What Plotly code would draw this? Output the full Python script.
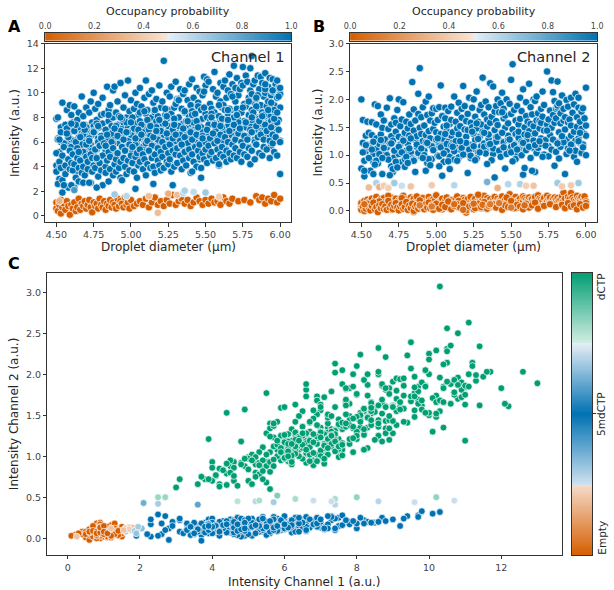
import numpy as np
import plotly.graph_objects as go

# ---------------- data ----------------
# Empty droplets: diameter, channel-1 intensity, channel-2 intensity
E_d = [4.50, 4.50, 4.51, 4.52, 4.53, 4.53, 4.54, 4.55, 4.56, 4.57,
       4.58, 4.59, 4.60, 4.61, 4.62, 4.63, 4.64, 4.65, 4.66, 4.67,
       4.68, 4.69, 4.70, 4.71, 4.72, 4.73, 4.74, 4.75, 4.76, 4.77,
       4.78, 4.79, 4.80, 4.81, 4.82, 4.83, 4.84, 4.85, 4.86, 4.87,
       4.88, 4.89, 4.90, 4.91, 4.92, 4.93, 4.94, 4.95, 4.96, 4.97,
       4.98, 4.99, 5.00, 5.02, 5.04, 5.06, 5.08, 5.10, 5.12, 5.14,
       5.16, 5.18, 5.20, 5.22, 5.24, 5.26, 5.28, 5.30, 5.32, 5.34,
       5.36, 5.38, 5.40, 5.42, 5.44, 5.46, 5.48, 5.50, 5.52, 5.54,
       5.56, 5.58, 5.60, 5.62, 5.64, 5.66, 5.68, 5.72, 5.76, 5.80,
       5.84, 5.86, 5.88, 5.90, 5.92, 5.94, 5.96, 5.98, 6.00]
E_c1 = [0.6, 1.1, 0.4, 0.9, 1.3, 0.2, 0.7, 1.0, 0.5, 1.2,
        0.8, 0.1, 0.9, 0.6, 1.1, 0.4, 0.7, 1.4, 0.5, 1.0,
        0.8, 1.2, 0.6, 0.9, 1.3, 0.7, 0.3, 1.1, 0.8, 1.0,
        0.6, 1.4, 0.9, 0.7, 1.2, 0.5, 1.0, 0.8, 1.3, 0.7,
        1.1, 0.9, 0.6, 1.4, 0.8, 1.2, 1.0, 0.7, 1.5, 0.9,
        1.1, 0.6, 1.3, 0.8, 1.0, 1.2, 0.9, 1.4, 0.7, 1.1,
        1.5, 0.9, 1.2, 0.8, 1.3, 1.0, 1.7, 0.9, 1.2, 1.4,
        1.0, 1.3, 0.8, 1.1, 1.5, 1.2, 0.9, 1.3, 1.0, 1.4,
        1.1, 1.2, 0.9, 1.5, 1.2, 1.0, 1.4, 1.2, 1.3, 1.1,
        1.6, 1.3, 1.5, 1.0, 1.4, 1.2, 1.7, 1.1, 1.4]
E_c2 = [0.05, 0.02, 0.08, 0.00, 0.11, 0.04, 0.13, 0.06, 0.01, 0.09,
        0.15, 0.03, 0.07, -0.02, 0.10, 0.05, 0.12, 0.04, 0.08, 0.02,
        0.18, 0.06, 0.11, 0.03, 0.09, 0.14, 0.06, 0.01, 0.08, 0.12,
        0.04, 0.07, 0.16, 0.02, 0.10, 0.05, 0.13, 0.00, 0.08, 0.11,
        0.04, 0.19, 0.07, 0.09, 0.03, 0.12, 0.06, 0.15, 0.05, 0.10,
        0.02, 0.08, 0.13, 0.04, 0.11, 0.07, 0.17, 0.03, 0.09, 0.12,
        0.06, 0.14, 0.01, 0.08, 0.10, 0.05, 0.13, 0.07, 0.16, 0.04,
        0.09, 0.12, 0.06, 0.14, 0.02, 0.10, 0.07, 0.18, 0.05, 0.11,
        0.08, 0.03, 0.13, 0.06, 0.10, 0.15, 0.04, 0.09, 0.12, 0.07,
        0.11, 0.05, 0.14, 0.08, 0.10, 0.03, 0.12, 0.06, 0.09]

# 5mdCTP droplets
M_d = [4.50, 4.50, 4.51, 4.52, 4.52, 4.53, 4.54, 4.54, 4.55,
       4.56, 4.56, 4.57, 4.58, 4.58, 4.59, 4.59, 4.60, 4.60,
       4.61, 4.61, 4.62, 4.63, 4.63, 4.64, 4.64, 4.65, 4.65,
       4.66, 4.66, 4.67, 4.68, 4.68, 4.69, 4.69, 4.70, 4.70,
       4.71, 4.71, 4.72, 4.73, 4.73, 4.74, 4.74, 4.75, 4.75,
       4.76, 4.76, 4.77, 4.78, 4.78, 4.79, 4.79, 4.80, 4.80,
       4.81, 4.81, 4.82, 4.83, 4.83, 4.84, 4.84, 4.85, 4.85,
       4.86, 4.86, 4.87, 4.88, 4.88, 4.89, 4.89, 4.90, 4.90,
       4.91, 4.91, 4.92, 4.93, 4.93, 4.94, 4.94, 4.95, 4.95,
       4.96, 4.96, 4.97, 4.98, 4.98, 4.99, 4.99, 5.00, 5.00,
       5.01, 5.01, 5.02, 5.03, 5.03, 5.04, 5.04, 5.05, 5.05,
       5.06, 5.06, 5.07, 5.08, 5.08, 5.09, 5.09, 5.10, 5.10,
       5.11, 5.11, 5.12, 5.13, 5.13, 5.14, 5.14, 5.15, 5.15,
       5.16, 5.16, 5.17, 5.18, 5.18, 5.19, 5.19, 5.20, 5.20,
       5.21, 5.21, 5.22, 5.23, 5.23, 5.24, 5.24, 5.25, 5.25,
       5.26, 5.26, 5.27, 5.28, 5.28, 5.29, 5.29, 5.30, 5.30,
       5.31, 5.31, 5.32, 5.33, 5.33, 5.34, 5.34, 5.35, 5.35,
       5.36, 5.36, 5.37, 5.38, 5.38, 5.39, 5.39, 5.40, 5.40,
       5.41, 5.41, 5.42, 5.43, 5.43, 5.44, 5.44, 5.45, 5.45,
       5.46, 5.46, 5.47, 5.48, 5.48, 5.49, 5.49, 5.50, 5.50,
       5.51, 5.51, 5.52, 5.53, 5.53, 5.54, 5.54, 5.55, 5.55,
       5.56, 5.56, 5.57, 5.58, 5.58, 5.59, 5.59, 5.60, 5.60,
       5.61, 5.61, 5.62, 5.63, 5.63, 5.64, 5.64, 5.65, 5.65,
       5.66, 5.66, 5.67, 5.68, 5.68, 5.69, 5.69, 5.70, 5.70,
       5.71, 5.71, 5.72, 5.73, 5.73, 5.74, 5.74, 5.75, 5.75,
       5.76, 5.76, 5.77, 5.78, 5.78, 5.79, 5.79, 5.80, 5.80,
       5.81, 5.81, 5.82, 5.83, 5.83, 5.84, 5.84, 5.85, 5.85,
       5.86, 5.86, 5.87, 5.88, 5.88, 5.89, 5.89, 5.90, 5.90,
       5.91, 5.91, 5.92, 5.93, 5.93, 5.94, 5.94, 5.95, 5.95,
       5.96, 5.96, 5.97, 5.98, 5.98, 5.99, 5.99, 6.00, 6.00,
       4.54, 5.03, 4.62, 4.77, 5.28, 4.68, 5.15, 4.85, 5.47]
M_c1 = [3.6, 5.1, 2.6, 4.4, 6.2, 3.9, 4.9, 2.9, 5.6,
        4.1, 3.4, 6.7, 4.6, 2.3, 5.3, 3.8, 4.3, 7.5,
        3.7, 5.0, 4.2, 6.0, 3.1, 4.7, 5.5, 3.9, 2.8,
        4.5, 6.4, 3.5, 5.2, 4.0, 7.0, 3.3, 4.8, 5.8,
        3.8, 4.4, 6.1, 2.7, 5.0, 3.6, 4.7, 6.8, 4.1,
        5.4, 3.9, 4.6, 7.3, 3.2, 5.7, 4.3, 3.7, 6.3,
        4.9, 2.5, 5.9, 4.0, 3.5, 6.6, 4.5, 5.2, 8.2,
        3.8, 4.8, 6.0, 3.3, 5.5, 4.2, 7.1, 4.6, 3.6,
        5.1, 6.5, 3.9, 4.4, 8.0, 5.6, 2.9, 4.7, 6.2,
        4.0, 5.3, 3.4, 6.8, 4.5, 5.8, 3.7, 4.9, 7.6,
        4.3, 5.6, 3.6, 6.3, 4.8, 5.1, 3.1, 7.0, 4.1,
        5.4, 4.4, 6.6, 3.8, 5.0, 8.5, 4.6, 5.9, 3.3,
        4.2, 6.1, 5.3, 3.9, 7.3, 4.7, 5.7, 4.0, 6.4,
        5.0, 3.5, 6.9, 4.5, 5.5, 4.1, 7.8, 5.2, 3.7,
        4.8, 6.0, 3.9, 5.6, 8.7, 4.4, 6.7, 5.1, 4.2,
        5.8, 4.6, 3.6, 6.3, 5.3, 7.4, 4.0, 5.0, 6.6,
        4.3, 5.5, 9.4, 4.9, 6.1, 3.8, 5.7, 7.1, 4.5,
        5.2, 6.4, 4.1, 5.9, 7.7, 4.7, 5.4, 3.5, 6.8,
        5.0, 6.2, 4.4, 8.3, 5.6, 4.0, 6.6, 5.3, 7.2,
        4.8, 5.8, 3.9, 6.5, 5.1, 10.1, 4.6, 6.0, 5.4,
        4.3, 7.0, 5.7, 6.3, 4.9, 8.0, 5.2, 6.7, 4.5,
        5.9, 7.5, 4.7, 6.1, 5.4, 9.0, 4.2, 6.6, 5.0,
        7.2, 5.6, 4.8, 6.4, 8.6, 5.3, 4.4, 7.8, 6.0,
        5.1, 6.9, 4.6, 9.7, 5.8, 7.4, 4.9, 6.2, 5.5,
        8.2, 4.7, 6.7, 5.2, 7.1, 6.0, 4.4, 8.8, 5.7,
        6.5, 5.0, 7.6, 4.8, 6.2, 9.3, 5.5, 7.0, 4.2,
        6.8, 5.3, 8.4, 6.0, 4.6, 7.3, 5.8, 9.8, 6.4,
        5.1, 7.7, 6.6, 4.9, 8.1, 6.2, 5.6, 7.4, 10.3,
        6.9, 5.4, 8.6, 6.1, 4.7, 7.2, 9.2, 5.9, 6.6,
        7.9, 5.2, 6.4, 8.4, 4.9, 7.0, 9.7, 6.0, 3.4,
        1.9, 2.2, 2.3, 2.3, 2.5, 2.7, 2.6, 2.8, 3.1]
M_c2 = [0.10, 0.14, 0.05, 0.18, 0.08, 0.12, 0.03, 0.20, 0.16,
        0.07, 0.15, 0.22, 0.11, 0.02, 0.09, 0.19, 0.13, 0.25,
        0.04, 0.17, 0.10, 0.21, 0.08, 0.14, 0.06, 0.23, 0.12,
        0.16, 0.11, 0.05, 0.20, 0.09, 0.14, 0.18, 0.02, 0.24,
        0.13, 0.07, 0.17, 0.10, 0.22, 0.15, 0.04, 0.19, 0.11,
        0.08, 0.18, 0.12, 0.27, 0.06, 0.15, 0.21, 0.09, 0.13,
        0.17, 0.03, 0.10, 0.24, 0.14, 0.19, 0.07, 0.12, 0.22,
        0.16, 0.09, 0.26, 0.11, 0.05, 0.18, 0.14, 0.20, 0.08,
        0.13, 0.23, 0.06, 0.17, 0.12, 0.10, 0.15, 0.25, 0.07,
        0.19, 0.12, 0.04, 0.21, 0.14, 0.09, 0.18, 0.11, 0.28,
        0.15, 0.06, 0.12, 0.20, 0.16, 0.03, 0.22, 0.13, 0.09,
        0.18, 0.11, 0.24, 0.07, 0.14, 0.19, 0.05, 0.16, 0.10,
        0.20, 0.12, 0.08, 0.17, 0.22, 0.13, 0.26, 0.06, 0.15,
        0.11, 0.19, 0.14, 0.23, 0.04, 0.16, 0.20, 0.09, -0.03,
        0.14, 0.21, 0.10, 0.17, 0.25, 0.07, 0.13, 0.19, 0.03,
        0.15, 0.22, 0.11, 0.08, 0.18, 0.24, 0.13, 0.05, 0.17,
        0.12, 0.20, 0.27, 0.09, 0.16, 0.14, 0.23, 0.11, 0.18,
        0.07, 0.21, 0.15, 0.12, 0.19, 0.25, 0.10, 0.06, 0.16,
        0.13, 0.22, 0.18, 0.20, 0.08, 0.14, 0.26, 0.11, 0.17,
        0.20, 0.09, 0.15, 0.13, 0.24, 0.30, 0.07, 0.18, 0.12,
        0.16, 0.21, 0.10, 0.25, 0.14, 0.18, 0.06, 0.13, 0.19,
        0.22, 0.15, 0.11, 0.17, 0.26, 0.23, 0.09, 0.14, 0.20,
        0.12, 0.18, 0.24, 0.08, 0.20, 0.15, 0.21, 0.17, 0.11,
        0.19, 0.25, 0.13, 0.28, 0.16, 0.10, 0.22, 0.14, 0.20,
        0.18, 0.09, 0.23, 0.15, 0.12, 0.27, 0.17, 0.21, 0.13,
        0.19, 0.24, 0.16, 0.11, 0.22, 0.24, 0.14, 0.20, 0.08,
        0.17, 0.23, 0.19, 0.12, 0.20, 0.26, 0.15, 0.33, 0.18,
        0.14, 0.22, 0.09, 0.19, 0.25, 0.16, 0.21, 0.12, 0.32,
        0.18, 0.24, 0.20, 0.13, 0.17, 0.27, 0.15, 0.22, 0.10,
        0.21, 0.16, 0.25, 0.19, 0.12, 0.23, 0.26, 0.17, 0.14,
        0.03, 0.05, 0.17, 0.23, 0.29, 0.27, 0.18, -0.02, 0.24]

# dCTP droplets
D_d = [4.50, 4.50, 4.51, 4.51, 4.52, 4.52, 4.53, 4.53, 4.54, 4.54, 4.55, 4.55,
       4.56, 4.56, 4.57, 4.57, 4.58, 4.58, 4.59, 4.59, 4.60, 4.60, 4.60,
       4.61, 4.61, 4.62, 4.62, 4.63, 4.63, 4.64, 4.64, 4.65, 4.65, 4.65,
       4.66, 4.66, 4.67, 4.67, 4.68, 4.68, 4.69, 4.69, 4.70, 4.70, 4.70,
       4.71, 4.71, 4.72, 4.72, 4.73, 4.73, 4.74, 4.74, 4.75, 4.75, 4.75,
       4.76, 4.76, 4.77, 4.77, 4.78, 4.78, 4.79, 4.79, 4.80, 4.80, 4.80,
       4.81, 4.81, 4.82, 4.82, 4.83, 4.83, 4.84, 4.84, 4.85, 4.85, 4.85,
       4.86, 4.86, 4.87, 4.87, 4.88, 4.88, 4.89, 4.89, 4.90, 4.90, 4.90,
       4.91, 4.91, 4.92, 4.92, 4.93, 4.93, 4.94, 4.94, 4.95, 4.95, 4.95,
       4.96, 4.96, 4.97, 4.97, 4.98, 4.98, 4.99, 4.99, 5.00, 5.00, 5.00,
       5.01, 5.01, 5.02, 5.02, 5.03, 5.03, 5.04, 5.04, 5.05, 5.05, 5.05,
       5.06, 5.06, 5.07, 5.07, 5.08, 5.08, 5.09, 5.09, 5.10, 5.10, 5.10,
       5.11, 5.11, 5.12, 5.12, 5.13, 5.13, 5.14, 5.14, 5.15, 5.15, 5.15,
       5.16, 5.16, 5.17, 5.17, 5.18, 5.18, 5.19, 5.19, 5.20, 5.20, 5.20,
       5.21, 5.21, 5.22, 5.22, 5.23, 5.23, 5.24, 5.24, 5.25, 5.25, 5.25,
       5.26, 5.26, 5.27, 5.27, 5.28, 5.28, 5.29, 5.29, 5.30, 5.30, 5.30,
       5.31, 5.31, 5.32, 5.32, 5.33, 5.33, 5.34, 5.34, 5.35, 5.35, 5.35,
       5.36, 5.36, 5.37, 5.37, 5.38, 5.38, 5.39, 5.39, 5.40, 5.40, 5.40,
       5.41, 5.41, 5.42, 5.42, 5.43, 5.43, 5.44, 5.44, 5.45, 5.45, 5.45,
       5.46, 5.46, 5.47, 5.47, 5.48, 5.48, 5.49, 5.49, 5.50, 5.50, 5.50,
       5.51, 5.51, 5.52, 5.52, 5.53, 5.53, 5.54, 5.54, 5.55, 5.55, 5.55,
       5.56, 5.56, 5.57, 5.57, 5.58, 5.58, 5.59, 5.59, 5.60, 5.60, 5.60,
       5.61, 5.61, 5.62, 5.62, 5.63, 5.63, 5.64, 5.64, 5.65, 5.65, 5.65,
       5.66, 5.66, 5.67, 5.67, 5.68, 5.68, 5.69, 5.69, 5.70, 5.70, 5.70,
       5.71, 5.71, 5.72, 5.72, 5.73, 5.73, 5.74, 5.74, 5.75, 5.75, 5.75,
       5.76, 5.76, 5.77, 5.77, 5.78, 5.78, 5.79, 5.79, 5.80, 5.80, 5.80,
       5.81, 5.81, 5.81, 5.82, 5.82, 5.83, 5.83, 5.84, 5.84, 5.85, 5.85, 5.85,
       5.86, 5.86, 5.87, 5.87, 5.88, 5.88, 5.89, 5.89, 5.90, 5.90, 5.90,
       5.91, 5.91, 5.92, 5.92, 5.93, 5.93, 5.94, 5.94, 5.95, 5.95, 5.95,
       5.96, 5.96, 5.97, 5.97, 5.98, 5.98, 5.99, 5.99, 6.00, 6.00, 6.00,
       4.58, 4.71, 4.79, 4.93, 5.02, 5.07, 5.19, 5.27, 5.32, 5.44, 5.58, 5.66,
       4.51, 4.53, 4.55, 4.57, 4.58, 4.60, 4.62, 4.63, 4.65, 4.67,
       4.68, 4.70, 4.72, 4.73, 4.75, 4.77, 4.78, 4.80, 4.82, 4.83,
       4.85, 4.87, 4.88, 4.90, 4.92, 4.93, 4.95, 4.97, 4.98, 5.00,
       5.02, 5.03, 5.05, 5.07, 5.08, 5.10, 5.12, 5.13, 5.15, 5.17,
       5.18, 5.20, 5.22, 5.23, 5.25, 5.27, 5.28, 5.30, 5.32, 5.33,
       5.35, 5.37, 5.38, 5.40, 5.42, 5.43, 5.45, 5.47, 5.48, 5.50,
       5.52, 5.53, 5.55, 5.57, 5.58, 5.60, 5.62, 5.63, 5.65, 5.67,
       5.68, 5.70, 5.72, 5.73, 5.75, 5.77, 5.78, 5.80, 5.82, 5.83,
       5.85, 5.87, 5.88, 5.90, 5.92, 5.93, 5.95, 5.97, 5.98, 6.00,
       4.52, 4.59, 4.64, 4.69, 4.74, 4.81, 4.86, 4.91, 4.96, 5.04,
       5.09, 5.14, 5.21, 5.26, 5.34, 5.39, 5.46, 5.51, 5.59, 5.64,
       5.71, 5.79, 5.86, 5.94,
       5.01, 5.06, 5.11, 5.16, 5.24, 5.29, 5.36, 5.41, 5.44, 5.49,
       5.54, 5.61, 5.66, 5.69, 5.74, 5.81, 5.84, 5.89, 5.96, 4.94]
D_c1 = [7.9, 4.1, 6.3, 8.0, 5.2, 3.0, 7.2, 6.0, 9.2, 4.8, 6.8, 5.6,
        7.4, 3.8, 8.6, 5.9, 6.6, 4.5, 7.0, 9.0, 5.4, 6.2, 8.2,
        4.2, 7.6, 6.1, 8.9, 5.7, 6.9, 3.6, 7.8, 6.4, 5.0, 8.4,
        7.1, 5.5, 9.7, 6.7, 4.6, 8.1, 6.0, 7.4, 5.2, 8.8, 6.5,
        7.0, 4.0, 8.4, 6.2, 5.8, 9.3, 7.6, 6.6, 10.0, 5.1, 7.3,
        6.9, 8.7, 5.4, 7.8, 6.3, 9.1, 4.4, 7.2, 8.2, 6.0, 5.7,
        9.6, 7.5, 6.6, 8.3, 5.3, 7.0, 10.5, 6.1, 8.6, 7.7, 4.8,
        6.8, 9.0, 7.3, 5.6, 8.0, 10.2, 6.4, 10.5, 5.0, 8.4, 6.9,
        7.4, 9.3, 5.9, 8.1, 6.5, 10.8, 7.1, 4.6, 8.8, 6.2, 7.6,
        9.8, 6.7, 8.0, 5.5, 7.2, 11.0, 6.0, 8.5, 7.8, 6.3, 9.4,
        7.0, 5.2, 8.7, 6.6, 10.0, 7.5, 5.8, 9.1, 6.9, 8.2, 4.9,
        7.7, 10.4, 6.4, 8.9, 5.6, 7.3, 9.6, 6.1, 8.3, 7.0, 11.0,
        6.7, 8.6, 5.3, 9.9, 7.4, 6.0, 8.0, 10.2, 7.1, 5.7, 9.2,
        8.4, 6.5, 7.7, 9.5, 5.9, 8.1, 6.8, 10.6, 7.2, 8.8, 6.2,
        9.3, 7.5, 12.6, 6.6, 8.2, 5.4, 7.9, 10.0, 6.9, 8.6, 7.3,
        9.7, 6.1, 8.3, 10.5, 7.0, 5.6, 8.8, 7.6, 9.1, 6.4, 10.9,
        9.5, 6.7, 9.5, 8.0, 5.8, 10.3, 7.2, 8.7, 6.3, 9.9, 7.5,
        8.4, 10.2, 6.9, 7.7, 9.4, 5.5, 8.1, 10.7, 7.4, 6.6, 9.0,
        11.1, 8.5, 7.0, 9.6, 6.2, 8.2, 10.4, 7.6, 9.2, 6.8, 8.9,
        7.3, 10.1, 8.6, 6.0, 9.8, 7.9, 11.3, 6.5, 8.3, 10.6, 7.1,
        11.1, 8.0, 6.7, 10.9, 7.7, 9.1, 5.9, 8.7, 10.3, 7.4, 6.3,
        11.7, 8.4, 7.0, 9.7, 6.6, 10.0, 8.1, 7.6, 9.3, 6.1, 10.8,
        8.8, 7.2, 10.5, 9.0, 6.8, 11.0, 7.9, 9.6, 8.3, 6.4, 10.2,
        11.5, 7.5, 9.9, 8.6, 6.9, 10.7, 8.0, 12.2, 9.3, 7.3, 10.4,
        8.7, 11.2, 7.8, 9.8, 10.3, 7.1, 10.8, 8.4, 12.1, 6.6, 10.6,
        9.1, 7.7, 11.4, 8.9, 7.4, 10.9, 8.2, 9.6, 12.0, 7.0, 10.2,
        8.6, 9.9, 13.0, 7.6, 10.7, 9.2, 11.0, 8.0, 9.5, 7.3, 11.4, 8.8,
        10.3, 7.9, 11.3, 9.0, 8.4, 10.8, 7.1, 9.7, 11.6, 8.1, 10.0,
        8.9, 7.5, 10.5, 9.3, 11.2, 8.2, 9.8, 7.7, 11.1, 8.6, 10.1,
        9.0, 7.2, 10.7, 8.3, 9.6, 11.0, 7.8, 10.4, 8.8, 9.9, 10.4,
        4.2, 3.7, 4.0, 3.1, 4.5, 4.4, 3.9, 4.9, 5.7, 5.5, 4.4, 4.6,
        6.2, 6.8, 5.9, 7.1, 6.4, 5.6, 6.9, 7.4, 6.1, 5.8,
        6.6, 7.2, 6.3, 5.5, 6.9, 7.5, 6.0, 6.5, 5.7, 7.0,
        6.2, 6.7, 5.9, 7.3, 6.4, 6.9, 5.6, 7.6, 6.1, 6.6,
        7.1, 5.8, 6.3, 7.4, 6.8, 6.0, 7.0, 6.5, 5.7, 7.2,
        6.2, 6.9, 5.9, 7.5, 6.4, 6.7, 7.0, 6.1, 7.3, 6.6,
        5.8, 7.1, 6.3, 6.9, 7.6, 6.0, 6.5, 7.2, 6.8, 5.9,
        7.4, 6.2, 6.7, 7.0, 6.4, 7.5, 6.1, 6.9, 7.3, 6.6,
        7.1, 6.3, 7.6, 6.8, 6.0, 7.2, 6.5, 7.4, 6.9, 6.2,
        7.0, 6.7, 7.5, 6.4, 7.1, 6.6, 7.3, 6.8, 7.6, 6.1,
        3.9, 4.3, 5.1, 4.7, 5.3, 4.0, 5.0, 4.5, 5.4, 4.2,
        5.2, 4.8, 5.5, 4.4, 5.0, 5.6, 4.6, 5.3, 4.1, 5.4,
        4.9, 5.6, 5.1, 5.7,
        8.0, 8.4, 7.8, 8.6, 8.1, 7.9, 8.5, 8.2, 7.7, 8.8,
        8.3, 7.9, 8.7, 8.0, 8.4, 7.8, 8.9, 8.2, 8.6, 7.9]
D_c2 = [2.00, 0.76, 1.63, 1.22, 0.90, 0.62, 1.35, 1.07, 1.60, 1.18, 0.95, 1.40,
        1.12, 0.72, 1.36, 1.59, 1.02, 0.88, 1.25, 1.91, 1.11, 1.30, 1.55,
        0.85, 1.88, 0.98, 1.20, 1.37, 1.73, 0.66, 1.49, 1.16, 0.99, 1.62,
        1.06, 1.28, 1.85, 1.14, 0.93, 1.47, 1.21, 2.02, 0.80, 1.34, 1.55,
        1.26, 0.70, 1.66, 0.96, 1.42, 1.58, 1.10, 1.81, 2.00, 1.02, 1.33,
        1.19, 1.52, 0.88, 1.64, 1.29, 1.95, 0.79, 1.40, 1.08, 1.60, 1.23,
        1.48, 1.21, 1.73, 1.35, 1.05, 1.56, 2.31, 0.94, 1.44, 1.82, 0.92,
        1.27, 1.62, 1.15, 1.34, 2.10, 1.74, 1.49, 2.56, 0.97, 1.38, 1.68,
        1.25, 1.86, 1.08, 1.53, 1.36, 1.96, 1.72, 0.86, 1.43, 1.19, 2.05,
        1.62, 1.30, 1.75, 0.93, 1.47, 1.84, 1.12, 1.58, 1.83, 1.26, 1.41,
        1.63, 0.99, 1.86, 1.22, 2.25, 1.38, 1.17, 1.70, 1.51, 1.29, 0.88,
        1.66, 1.85, 1.08, 1.44, 1.24, 1.79, 1.56, 0.97, 1.87, 1.35, 1.63,
        1.41, 1.22, 0.92, 2.05, 1.60, 1.14, 1.76, 1.48, 1.28, 1.37, 1.94,
        1.52, 1.10, 1.83, 1.67, 1.25, 2.24, 1.46, 1.88, 1.02, 1.61, 1.33,
        1.74, 1.45, 2.03, 1.19, 1.58, 0.95, 1.85, 1.50, 1.38, 2.00, 1.12,
        1.69, 1.27, 1.48, 2.14, 1.60, 1.05, 1.81, 1.33, 1.55, 1.16, 1.90,
        2.39, 1.42, 1.73, 1.21, 1.08, 1.96, 1.51, 1.64, 1.29, 1.86, 1.37,
        1.58, 2.29, 1.17, 1.69, 2.23, 1.02, 1.45, 1.78, 1.32, 1.88, 1.61,
        2.00, 1.54, 1.26, 1.77, 1.10, 1.93, 2.12, 1.40, 1.66, 1.23, 1.83,
        1.49, 1.71, 2.00, 1.06, 1.57, 1.35, 1.92, 1.28, 1.74, 2.35, 1.15,
        2.63, 1.46, 1.20, 1.81, 1.62, 1.38, 0.99, 1.88, 1.55, 1.31, 1.42,
        2.03, 1.65, 1.24, 1.79, 1.11, 2.18, 1.50, 1.37, 1.95, 1.18, 1.70,
        1.60, 1.29, 2.28, 1.43, 1.56, 1.86, 1.34, 1.73, 2.00, 1.13, 1.52,
        1.97, 1.39, 2.05, 1.62, 1.21, 1.75, 1.48, 1.61, 1.58, 1.30, 1.83,
        1.69, 2.14, 1.44, 1.90, 3.07, 1.27, 2.50, 1.55, 1.64, 1.16, 1.64,
        1.80, 1.36, 2.34, 1.49, 2.13, 1.72, 1.58, 1.97, 1.83, 1.24, 1.66,
        2.32, 1.85, 1.89, 1.41, 1.93, 1.57, 1.75, 1.32, 2.07, 1.19, 1.62, 1.83,
        1.68, 1.46, 1.99, 1.28, 1.59, 1.87, 1.09, 1.64, 2.03, 1.35, 1.53,
        1.76, 1.14, 1.91, 1.42, 2.10, 1.26, 1.68, 1.51, 1.85, 2.03, 1.30,
        1.60, 1.22, 1.78, 1.47, 1.84, 1.19, 1.38, 1.66, 2.21, 1.53, 1.35,
        0.66, 0.75, 0.93, 0.72, 0.80, 1.53, 1.21, 1.57, 1.40, 1.77, 0.65, 0.70,
        1.05, 1.18, 0.95, 1.10, 1.24, 0.90, 1.02, 1.27, 1.13, 1.00,
        0.92, 1.21, 1.08, 0.88, 1.15, 1.05, 1.26, 0.97, 1.12, 1.30,
        0.90, 1.19, 1.04, 1.12, 1.00, 1.23, 0.93, 1.16, 1.09, 1.28,
        0.98, 1.14, 1.03, 1.20, 0.89, 1.17, 1.07, 1.25, 0.96, 1.13,
        1.01, 1.22, 1.10, 0.99, 1.16, 0.94, 1.29, 1.06, 1.15, 1.03,
        1.19, 0.91, 1.12, 1.24, 1.08, 0.97, 1.14, 1.02, 1.27, 1.05,
        1.18, 0.93, 1.11, 1.00, 1.22, 1.09, 1.15, 0.95, 1.26, 1.04,
        1.13, 1.20, 1.01, 1.17, 0.98, 1.10, 1.28, 1.06, 0.94, 1.15,
        1.23, 1.02, 1.12, 1.19, 0.97, 1.08, 1.25, 1.04, 1.14, 1.00,
        0.72, 0.83, 0.95, 0.64, 0.78, 0.86, 0.70, 0.95, 0.82, 0.63,
        0.75, 0.90, 0.68, 0.91, 0.84, 0.60, 0.76, 0.89, 0.77, 0.72,
        0.97, 0.81, 0.66, 0.88,
        1.30, 1.38, 1.15, 1.25, 1.42, 1.05, 1.20, 1.33, 1.40, 1.28,
        1.10, 1.36, 1.18, 1.25, 1.44, 1.21, 1.34, 1.08, 1.40, 1.22]

# Ambiguous droplets with intermediate probabilities
U_d = [4.55, 4.60, 4.62, 4.65, 4.68, 4.72, 4.77, 4.83, 4.97, 5.12,
       5.34, 5.41, 5.48, 5.56, 5.60, 5.65, 5.81, 5.84, 5.90, 5.95,
       4.89, 4.97, 5.12, 5.18, 5.25, 5.31, 5.35, 5.36, 5.42, 5.50, 5.59, 4.52]
U_c1 = [2.5, 2.5, 2.1, 5.2, 7.4, 2.7, 4.7, 5.7, 6.8, 5.3,
        5.8, 3.6, 6.3, 7.4, 7.3, 8.6, 8.0, 9.6, 10.7, 10.2,
        1.75, 1.6, 1.6, 0.25, 1.8, 1.7, 1.85, 2.05, 1.95, 1.9, 1.55, 1.2]
U_c2 = [0.42, 0.50, 0.43, 0.45, 0.41, 0.50, 0.45, 0.44, 0.46, 0.46,
        0.52, 0.41, 0.48, 0.48, 0.45, 0.45, 0.50, 0.44, 0.46, 0.50,
        0.10, 0.08, 0.12, 0.02, 0.13, 0.11, 0.09, 0.12, 0.14, 0.06, 0.10, 0.12]
U_p1 = [1, 1, 0.85, 1, 1, 1, 1, 1, 1, 1,
        1, 1, 1, 1, 1, 1, 1, 1, 1, 1,
        0.65, 0.6, 0.35, 0.35, 0.3, 0.35, 0.6, 0.62, 0.58, 0.65, 0.4, 0.3]
U_p2 = [0.35, 0.62, 0.3, 0.4, 0.42, 0.65, 0.56, 0.38, 0.4, 0.6,
        0.75, 0.3, 0.6, 0.62, 0.42, 0.38, 0.65, 0.4, 0.4, 0.65,
        0.1, 0.1, 0.05, 0.05, 0.05, 0.05, 0.1, 0.1, 0.1, 0.1, 0.05, 0.05]
U_cls = [0.68, 0.82, 0.62, 0.70, 0.70, 0.82, 0.78, 0.68, 0.72, 0.80,
         0.85, 0.60, 0.80, 0.80, 0.72, 0.70, 0.83, 0.72, 0.72, 0.83,
         0.32, 0.30, 0.20, 0.20, 0.20, 0.22, 0.30, 0.33, 0.30, 0.32, 0.20, 0.20]

CLASS_LEVELS = {"Empty": 0.0, "5mdCTP": 0.5, "dCTP": 1.0}

# ---------------- assemble ----------------
def grp(*cols):
    n = min(len(c) for c in cols)
    return [np.asarray(c[:n], dtype=float) for c in cols]

Ed, Ec1, Ec2 = grp(E_d, E_c1, E_c2)
Md, Mc1, Mc2 = grp(M_d, M_c1, M_c2)
Dd, Dc1, Dc2 = grp(D_d, D_c1, D_c2)
Ud, Uc1, Uc2, Up1, Up2, Ucl = grp(U_d, U_c1, U_c2, U_p1, U_p2, U_cls)

nE, nM, nD = len(Ed), len(Md), len(Dd)
diam = np.concatenate([Dd, Md, Ed, Ud])
ch1 = np.concatenate([Dc1, Mc1, Ec1, Uc1])
ch2 = np.concatenate([Dc2, Mc2, Ec2, Uc2])
p1 = np.concatenate([np.ones(nD), np.ones(nM), np.zeros(nE), Up1])
p2 = np.concatenate([np.ones(nD), np.zeros(nM), np.zeros(nE), Up2])
cls = np.concatenate([np.full(nD, CLASS_LEVELS["dCTP"]), np.full(nM, CLASS_LEVELS["5mdCTP"]),
                      np.full(nE, CLASS_LEVELS["Empty"]), Ucl])

# ---------------- styling ----------------
W, H = 614, 590
ORANGE, BLUE, GREEN = "#d55e00", "#0072b2", "#009e73"
occ_scale = [[0, ORANGE], [0.5, "#f8e6d8"], [0.5, "#e5eff7"], [1, BLUE]]
cls_scale = [[0, ORANGE], [0.25, "#f5dccb"], [0.25, "#cfe1ef"], [0.5, BLUE],
             [0.75, "#e6eef5"], [0.75, "#d3eee2"], [1, GREEN]]
FONT = "DejaVu Sans"
TXT = "#262626"
TICK = "#444444"

def X(px):
    return px / W

def Y(py):
    return 1 - py / H

fig = go.Figure()

mk = dict(line=dict(color="white", width=0.7), cmin=0, cmax=1)
fig.add_trace(go.Scatter(x=diam, y=ch1, mode="markers", xaxis="x", yaxis="y",
                         marker=dict(size=7.5, color=p1, colorscale=occ_scale, **mk),
                         showlegend=False, hoverinfo="skip"))
fig.add_trace(go.Scatter(x=diam, y=ch2, mode="markers", xaxis="x2", yaxis="y2",
                         marker=dict(size=7.5, color=p2, colorscale=occ_scale, **mk),
                         showlegend=False, hoverinfo="skip"))
fig.add_trace(go.Scatter(x=ch1, y=ch2, mode="markers", xaxis="x3", yaxis="y3",
                         marker=dict(size=6.8, color=cls, colorscale=cls_scale, **mk),
                         showlegend=False, hoverinfo="skip"))

# colour bars drawn as gradient strips
ramp = np.linspace(0, 1, 256)
fig.add_trace(go.Heatmap(z=[ramp], x=ramp, y=[0], colorscale=occ_scale, zmin=0, zmax=1,
                         showscale=False, xaxis="x4", yaxis="y4", hoverinfo="skip"))
fig.add_trace(go.Heatmap(z=[ramp], x=ramp, y=[0], colorscale=occ_scale, zmin=0, zmax=1,
                         showscale=False, xaxis="x5", yaxis="y5", hoverinfo="skip"))
fig.add_trace(go.Heatmap(z=[[v] for v in ramp], x=[0], y=ramp, colorscale=cls_scale, zmin=0, zmax=1,
                         showscale=False, xaxis="x6", yaxis="y6", hoverinfo="skip"))

base = dict(showline=True, linecolor="#333333", linewidth=1, mirror=True, ticks="outside",
            ticklen=3.5, tickwidth=1, tickcolor="#333333", showgrid=False, zeroline=False,
            tickfont=dict(family=FONT, size=9.5, color=TICK))

dia_ticks = [4.5, 4.75, 5.0, 5.25, 5.5, 5.75, 6.0]
dia_text = ["4.50", "4.75", "5.00", "5.25", "5.50", "5.75", "6.00"]
top_dom = [Y(218.3), Y(38)]

cb_ticks = [0, 0.2, 0.4, 0.6, 0.8, 1.0]
cb_text = ["0.0", "0.2", "0.4", "0.6", "0.8", "1.0"]
cb_x = dict(showline=True, linecolor="#333333", linewidth=1, mirror=True, ticks="",
            side="top", range=[0, 1], tickvals=cb_ticks, ticktext=cb_text, showgrid=False,
            zeroline=False, ticklabeloverflow="allow",
            tickfont=dict(family=FONT, size=8, color=TICK))
cb_y = dict(showline=True, linecolor="#333333", linewidth=1, mirror=True, showticklabels=False,
            ticks="", showgrid=False, zeroline=False, range=[-0.5, 0.5])

fig.update_layout(
    width=W, height=H, margin=dict(l=0, r=0, t=0, b=0), autosize=False,
    paper_bgcolor="white", plot_bgcolor="white",
    xaxis=dict(domain=[X(40), X(291)], range=[4.425, 6.075], anchor="y",
               tickvals=dia_ticks, ticktext=dia_text, **base),
    yaxis=dict(domain=top_dom, range=[-0.5, 14], anchor="x",
               tickvals=[0, 2, 4, 6, 8, 10, 12, 14], **base),
    xaxis2=dict(domain=[X(351), X(603)], range=[4.425, 6.075], anchor="y2",
                tickvals=dia_ticks, ticktext=dia_text, **base),
    yaxis2=dict(domain=top_dom, range=[-0.2, 3.0], anchor="x2",
                tickvals=[0, 0.5, 1.0, 1.5, 2.0, 2.5, 3.0],
                ticktext=["0.0", "0.5", "1.0", "1.5", "2.0", "2.5", "3.0"], **base),
    xaxis3=dict(domain=[X(42.3), X(566.7)], range=[-0.56, 13.67], anchor="y3",
                tickvals=[0, 2, 4, 6, 8, 10, 12], **base),
    yaxis3=dict(domain=[Y(554.3), Y(269.3)], range=[-0.2, 3.24], anchor="x3",
                tickvals=[0, 0.5, 1.0, 1.5, 2.0, 2.5, 3.0],
                ticktext=["0.0", "0.5", "1.0", "1.5", "2.0", "2.5", "3.0"], **base),
    xaxis4=dict(domain=[X(40), X(291)], anchor="y4", **cb_x),
    yaxis4=dict(domain=[Y(35), Y(27)], anchor="x4", **cb_y),
    xaxis5=dict(domain=[X(351), X(603)], anchor="y5", **cb_x),
    yaxis5=dict(domain=[Y(35), Y(27)], anchor="x5", **cb_y),
    xaxis6=dict(domain=[X(577.3), X(597.7)], anchor="y6", showline=True, linecolor="#333333",
                linewidth=1, mirror=True, showticklabels=False, ticks="", showgrid=False,
                zeroline=False, range=[-0.5, 0.5]),
    yaxis6=dict(domain=[Y(555), Y(269.3)], anchor="x6", side="right", showline=True,
                linecolor="#333333", linewidth=1, mirror=True, range=[0, 1],
                tickvals=[0.5], ticks="outside", ticklen=3, tickcolor="#333333",
                showticklabels=False, showgrid=False, zeroline=False),
)

ann = []

def text(x, y, s, size, angle=0, xa="center", ya="middle", bold=False, color=TXT):
    ann.append(dict(x=X(x), y=Y(y), xref="paper", yref="paper", text=("<b>%s</b>" % s) if bold else s,
                    showarrow=False, textangle=angle, xanchor=xa, yanchor=ya, borderpad=0,
                    font=dict(family=FONT, size=size, color=color)))

# panel letters
text(1, 21, "A", 16, xa="left", bold=True, color="black")
text(312, 21, "B", 16, xa="left", bold=True, color="black")
text(1, 260, "C", 16, xa="left", bold=True, color="black")
# colour bar titles
text(165.5, 6, "Occupancy probability", 11)
text(477, 6, "Occupancy probability", 11)
# channel labels
text(285, 52, "Channel 1", 14.5, xa="right")
text(597, 52, "Channel 2", 14.5, xa="right")
# axis titles
text(165.5, 243, "Droplet diameter (µm)", 12)
text(477, 243, "Droplet diameter (µm)", 12)
text(8.5, 128, "Intensity (a.u.)", 12, angle=-90)
text(318, 128, "Intensity (a.u.)", 12, angle=-90)
text(304.5, 582, "Intensity Channel 1 (a.u.)", 12)
text(7.5, 412, "Intensity Channel 2 (a.u.)", 12, angle=-90)
# class colour bar labels
text(607, 537, "Empty", 10.5, angle=-90)
text(607, 412, "5mdCTP", 10.5, angle=-90)
text(607, 284, "dCTP", 10.5, angle=-90)

fig.update_layout(annotations=ann)
# remove the default page margin so the figure sits at the top-left corner of the window
fig.write_html("out.html", config={"displayModeBar": False},
               post_script="document.body.style.margin='0px';")
